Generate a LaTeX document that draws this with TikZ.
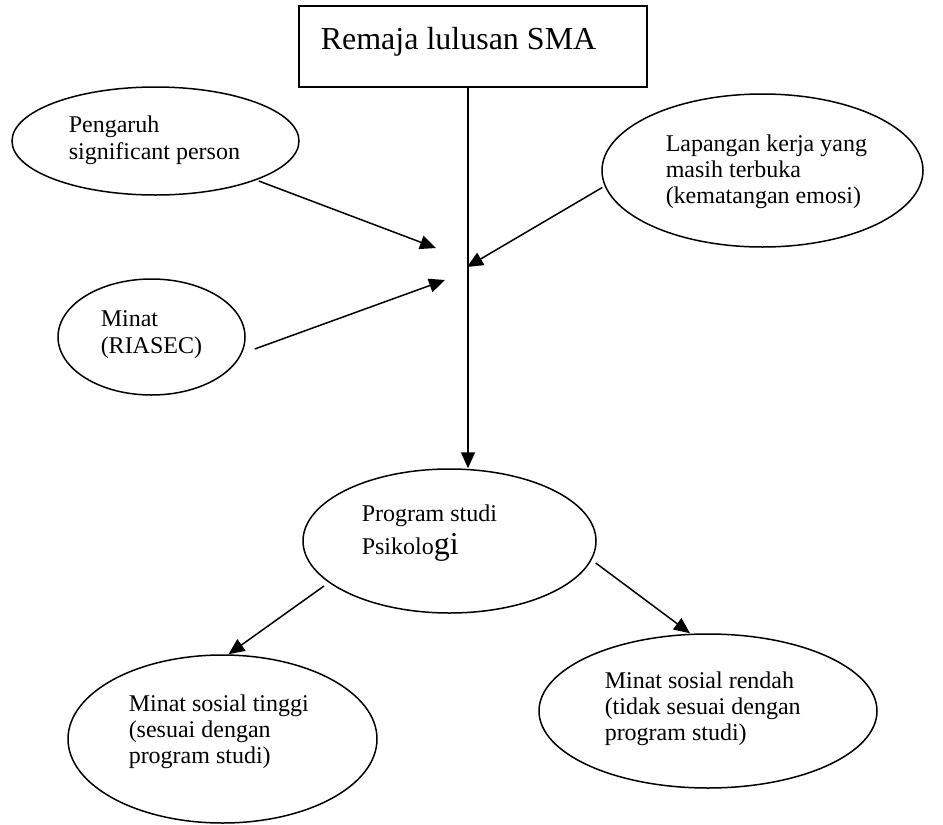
\documentclass[tikz,border=0pt]{standalone}
\usepackage{fontspec}
\setmainfont{Liberation Serif}
\usetikzlibrary{shapes.geometric,arrows.meta}
\begin{document}
\begin{tikzpicture}[x=1pt,y=-1pt,line width=1.5pt,
  oval/.style={draw,ellipse,inner sep=0pt},
  txt/.style={anchor=base west,inner sep=0pt,font=\fontsize{24}{27}\selectfont},
  arr/.style={-{Triangle[length=16pt,width=14pt]},line width=1.5pt}]
\useasboundingbox (0,0) rectangle (943,825);
% boxes and ellipses
\node[draw,rectangle,minimum width=348pt,minimum height=81pt,inner sep=0pt] (box) at (473,46.5) {};
\node[oval,minimum width=287pt,minimum height=108pt] (peng) at (155.5,141) {};
\node[oval,minimum width=187pt,minimum height=116pt] (minat) at (151.5,337) {};
\node[oval,minimum width=321pt,minimum height=153pt] (lap) at (762.5,170.5) {};
\node[oval,minimum width=293pt,minimum height=144pt] (prog) at (449.5,541) {};
\node[oval,minimum width=309pt,minimum height=168pt] (tinggi) at (222.5,739) {};
\node[oval,minimum width=338pt,minimum height=154pt] (rendah) at (708,711) {};
% texts
\node[anchor=base west,inner sep=0pt,font=\fontsize{32}{32}\selectfont] (t0) at (320,49) {Remaja lulusan SMA};
\node[txt] (t1a) at (68,132) {Pengaruh};
\node[txt] (t1b) at (68,159) {significant person};
\node[txt] (t2a) at (100,326) {Minat};
\node[txt] (t2b) at (100,353) {(RIASEC)};
\node[txt] (t3a) at (665,151) {Lapangan kerja yang};
\node[txt] (t3b) at (665,177) {masih terbuka};
\node[txt] (t3c) at (665,203) {(kematangan emosi)};
\node[txt] (t4a) at (361,521) {Program studi};
\node[txt] (t4b) at (361,554) {Psikolo{\fontsize{32}{32}\selectfont gi}};
\node[txt] (t5a) at (128,711) {Minat sosial tinggi};
\node[txt] (t5b) at (128,737) {(sesuai dengan};
\node[txt] (t5c) at (128,763) {program studi)};
\node[txt] (t6a) at (604,688) {Minat sosial rendah};
\node[txt] (t6b) at (604,714) {(tidak sesuai dengan};
\node[txt] (t6c) at (604,740) {program studi)};
% free ends
\coordinate (ja) at (436,248);
\coordinate (jb) at (445,280);
\coordinate (jc) at (467,267);
% connectors
\draw[arr] ([xshift=-5pt]box.south) -- ([xshift=-5pt]box.south |- prog.north);
\draw[arr] ([shift={(-41,40)}]peng.east) -- (ja);
\draw[arr] ([shift={(9,12)}]minat.east) -- (jb);
\draw[arr] ([shift={(1,17)}]lap.west) -- (jc);
\draw[arr] ([shift={(-125.5,45)}]prog.center) -- ([xshift=6pt]tinggi.north);
\draw[arr] ([shift={(-1,22)}]prog.east) -- ([xshift=-18pt]rendah.north);
\end{tikzpicture}
\end{document}
